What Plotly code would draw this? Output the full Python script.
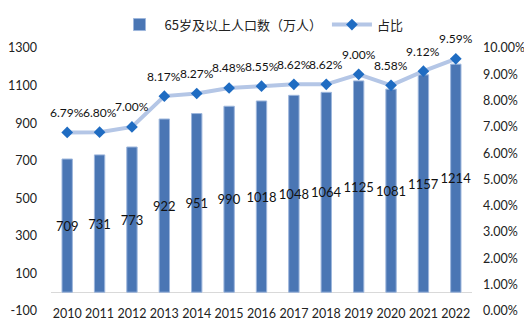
import plotly.graph_objects as go

years = [str(y) for y in range(2010, 2023)]
population = [709, 731, 773, 922, 951, 990, 1018, 1048, 1064, 1125, 1081, 1157, 1214]
share = [6.79, 6.80, 7.00, 8.17, 8.27, 8.48, 8.55, 8.62, 8.62, 9.00, 8.58, 9.12, 9.59]
left_ticks = [-100, 100, 300, 500, 700, 900, 1100, 1300]

FONT = "Lato, 'Noto Sans CJK SC', sans-serif"

fig = go.Figure()
fig.add_trace(go.Bar(
    x=years, y=population, name="65岁及以上人口数（万人）",
    marker=dict(color="#4a76b4", line=dict(color="#9db6dc", width=1)),
    width=0.32,
    text=[str(v) for v in population], textposition="inside", textangle=0,
    insidetextanchor="middle", constraintext="none",
    insidetextfont=dict(color="#111111", size=13, family=FONT),
    yaxis="y",
))
fig.add_trace(go.Scatter(
    x=years, y=[s / 100 for s in share], name="占比",
    mode="lines+markers",
    line=dict(color="#b4c6e6", width=4),
    marker=dict(symbol="diamond", size=9, color="#1f6cc2"),
    yaxis="y2", cliponaxis=False,
))

for i, s in enumerate(share):
    fig.add_annotation(x=i, y=s / 100, xref="x", yref="y2", text=f"{s:.2f}%",
                       showarrow=False, yshift=20,
                       font=dict(color="#111111", size=12, family=FONT))

# page body adds an 8px offset; figure is sized to fit the 532x326 window
fig.update_layout(
    width=524, height=318,
    margin=dict(l=43, r=60, t=40, b=15),
    paper_bgcolor="white", plot_bgcolor="white",
    font=dict(family=FONT, size=12, color="#222222"),
    showlegend=True,
    legend=dict(orientation="h", x=0.5, xanchor="center", y=0.995, yanchor="top",
                yref="container", font=dict(size=13, family="'Noto Sans CJK SC', sans-serif"),
                itemwidth=40),
    xaxis=dict(type="category", range=[-0.5, len(years) - 0.5], showgrid=False,
               showline=False, ticks="", tickfont=dict(size=12.5), automargin=False,
               anchor="free", position=0.025),
    yaxis=dict(range=[-100, 1300], tickvals=left_ticks, ticktext=[str(v) for v in left_ticks],
               showgrid=False, zeroline=True, zerolinecolor="#d9d9d9", zerolinewidth=1,
               showline=False, ticks="", tickfont=dict(size=12.5), automargin=False,
               ticklabelstandoff=13),
    yaxis2=dict(range=[0, 0.10], dtick=0.01, tickformat=".2%", overlaying="y",
                side="right", showgrid=False, zeroline=False, showline=False,
                ticks="", tickfont=dict(size=12.5), automargin=False,
                ticklabelstandoff=10),
)

fig.write_html("out.html")
